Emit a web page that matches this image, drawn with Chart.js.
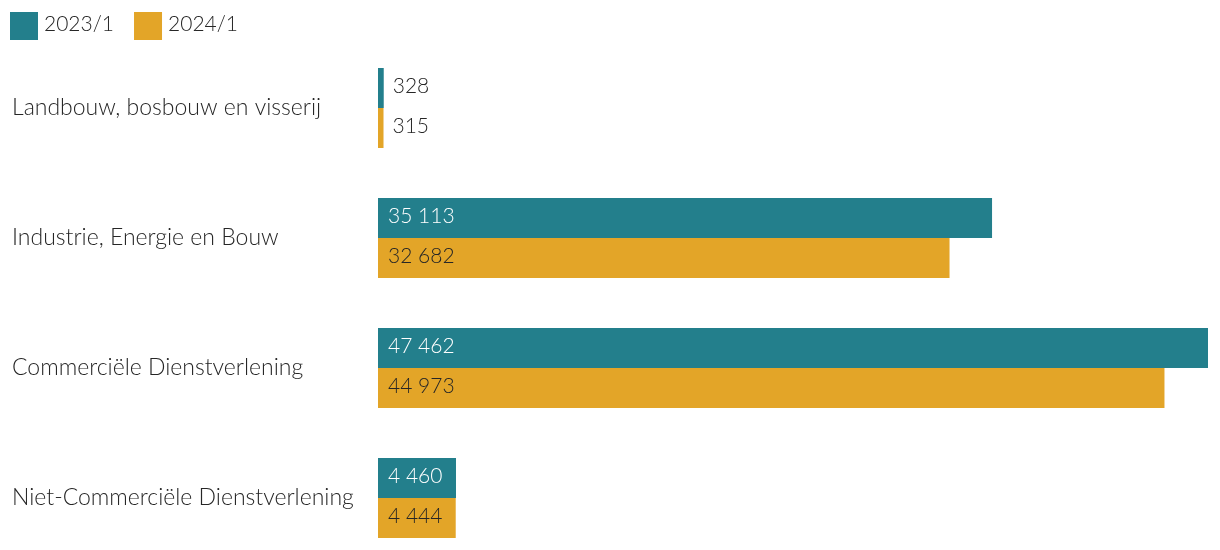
<!DOCTYPE html>
<html>
<head>
<meta charset="utf-8">
<script src="https://cdn.jsdelivr.net/npm/chart.js@4"></script>
<style>
  html, body { margin: 0; padding: 0; background: #fff; overflow: hidden; }
</style>
</head>
<body>
<canvas id="sectoren" width="1220" height="550"></canvas>
<script>
const categories = ['Landbouw, bosbouw en visserij', 'Industrie, Energie en Bouw', 'Commerciële Dienstverlening', 'Niet-Commerciële Dienstverlening'];
const seriesNames = ['2023/1', '2024/1'];
const values2023 = [328, 35113, 47462, 4460];
const values2024 = [315, 32682, 44973, 4444];

const teal = '#237f8c';
const gold = '#e3a528';
const textColor = '#262626';
const fontFamily = 'Lato, sans-serif';
const smallFont = '300 21px ' + fontFamily;

const fmt = v => String(v).replace(/\B(?=(\d{3})+(?!\d))/g, ' ');

// waarden in of naast de balken
const barLabels = {
  id: 'barLabels',
  afterDatasetsDraw(chart) {
    const c = chart.ctx;
    c.save();
    c.font = smallFont;
    c.textBaseline = 'middle';
    c.textAlign = 'left';
    chart.data.datasets.forEach((ds, i) => {
      chart.getDatasetMeta(i).data.forEach((bar, j) => {
        const txt = fmt(ds.data[j]);
        const w = c.measureText(txt).width;
        const len = bar.x - bar.base;
        if (len > w + 16) {
          c.fillStyle = i === 0 ? '#ffffff' : textColor;
          c.fillText(txt, bar.base + 10, bar.y - 2);
        } else {
          c.fillStyle = textColor;
          c.fillText(txt, bar.x + 9, bar.y - 2);
        }
      });
    });
    c.restore();
  }
};

// eenvoudige legenda linksboven
const topLegend = {
  id: 'topLegend',
  afterDraw(chart) {
    const c = chart.ctx;
    c.save();
    c.font = smallFont;
    c.textBaseline = 'middle';
    c.textAlign = 'left';
    let x = 10;
    chart.data.datasets.forEach(ds => {
      c.fillStyle = ds.backgroundColor;
      c.fillRect(x, 12, 28, 28);
      c.fillStyle = textColor;
      c.fillText(ds.label, x + 34, 24);
      x += 34 + c.measureText(ds.label).width + 20;
    });
    c.restore();
  }
};

new Chart(document.getElementById('sectoren'), {
  type: 'bar',
  data: {
    labels: categories,
    datasets: [
      { label: seriesNames[0], data: values2023, backgroundColor: teal, clip: false },
      { label: seriesNames[1], data: values2024, backgroundColor: gold, clip: false }
    ]
  },
  options: {
    indexAxis: 'y',
    responsive: false,
    animation: false,
    categoryPercentage: 80 / 130,
    barPercentage: 1,
    // categorieën staan op de randen van het plotvlak (offset: false)
    layout: { padding: { left: 12, right: 12, top: 108, bottom: 52 } },
    plugins: {
      legend: { display: false },
      tooltip: { enabled: false }
    },
    scales: {
      x: {
        min: 0,
        max: 47462,
        display: false,
        grid: { display: false }
      },
      y: {
        offset: false,
        grid: { display: false },
        border: { display: false },
        afterFit(scale) { scale.width = 366; },
        ticks: {
          crossAlign: 'far',
          color: textColor,
          font: { family: fontFamily, size: 23, weight: 300 }
        }
      }
    }
  },
  plugins: [barLabels, topLegend]
});
</script>
</body>
</html>
